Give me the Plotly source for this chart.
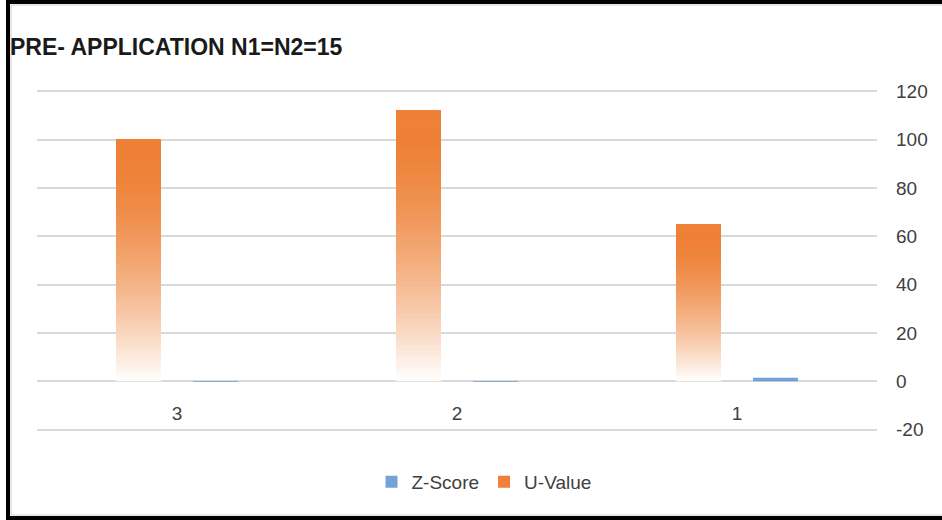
import plotly.graph_objects as go

# ---- data ----
categories = ["3", "2", "1"]
z_score = [-0.3, -0.3, 1.5]
u_value = [100, 112, 65]
category_order = ["1", "2", "3"]
y_tick_values = [-20, 0, 20, 40, 60, 80, 100, 120]
y_tick_labels = ["-20", "0", "20", "40", "60", "80", "100", "120"]
title_text = "PRE- APPLICATION N1=N2=15"

# ---- style ----
ORANGE = (237, 125, 49)
BLUE = "rgba(100,152,212,0.9)"
N_SLICES = 60
FONT = "Liberation Sans"
TXT = "#404040"

fig = go.Figure()

# Z-Score (single colour; too small to show a gradient)
fig.add_trace(go.Bar(
    x=categories, y=z_score, name="Z-Score", offsetgroup="z",
    marker=dict(color=BLUE, line=dict(width=0)), legendrank=1,
))


def alpha(f):
    return min(0.97, 1 - (1 - f) ** 1.7)


def blend(f):
    a = alpha(f)
    r, g, b = (round(255 + (c - 255) * a) for c in ORANGE)
    return f"rgb({r},{g},{b})"


# U-Value: vertical gradient built from overlapping opaque layers,
# each layer running from a fraction of the bar up to its top.
for k in range(N_SLICES):
    f = (k + 0.5) / N_SLICES
    fig.add_trace(go.Bar(
        x=categories,
        y=[v * (1 - k / N_SLICES) for v in u_value],
        base=[v * k / N_SLICES for v in u_value],
        offsetgroup="u",
        name="U-Value",
        showlegend=(k == N_SLICES - 1),
        legendrank=2,
        marker=dict(color=blend(f), line=dict(width=0)),
        hoverinfo="skip" if k < N_SLICES - 1 else None,
    ))

W, H = 942, 520
ML, MR, MT, MB = 37, 65, 89, 88
PW, PH = W - ML - MR, H - MT - MB


def px_x(px):
    return (px - ML) / PW


def px_y(py):
    return (H - MB - py) / PH


fig.update_layout(
    width=W, height=H,
    margin=dict(l=ML, r=MR, t=MT, b=MB),
    paper_bgcolor="white", plot_bgcolor="white",
    barmode="group", bargap=0.45, bargroupgap=0.416,
    font=dict(family=FONT, color=TXT),
    title=dict(text=title_text, xref="container", yref="container",
               x=10 / W, xanchor="left", y=1 - 47 / H, yanchor="middle",
               font=dict(family=FONT, size=23, color="#1a1a1a", weight="bold")),
    legend=dict(orientation="h", xref="paper", yref="paper",
                x=px_x(484), xanchor="center", y=px_y(482), yanchor="middle",
                font=dict(size=19, color=TXT), bgcolor="rgba(0,0,0,0)",
                traceorder="normal"),
    showlegend=True,
)

fig.update_yaxes(
    side="right", range=[-21, 121],
    tickmode="array", tickvals=y_tick_values, ticktext=y_tick_labels,
    showgrid=True, gridcolor="#d9d9d9", gridwidth=1.5,
    zeroline=True, zerolinecolor="#d9d9d9", zerolinewidth=1.5,
    showline=False, ticks="", ticklabelstandoff=18,
    tickfont=dict(size=19, color=TXT),
)
fig.update_xaxes(
    type="category", categoryorder="array", categoryarray=category_order,
    autorange="reversed", anchor="free", position=px_y(400),
    showgrid=False, zeroline=False, showline=False, ticks="",
    tickfont=dict(size=19, color=TXT),
)

# chart frame
fig.add_shape(type="rect", xref="paper", yref="paper",
              x0=px_x(11), x1=px_x(990), y0=px_y(515), y1=px_y(5),
              line=dict(color="#d0d0d0", width=1), layer="below")
fig.add_shape(type="rect", xref="paper", yref="paper",
              x0=px_x(8), x1=px_x(990), y0=px_y(518), y1=px_y(2),
              line=dict(color="black", width=4), layer="above")

fig.write_html(
    "out.html",
    config={"displayModeBar": False},
    post_script="document.body.style.margin='0';document.body.style.overflow='hidden';",
)
